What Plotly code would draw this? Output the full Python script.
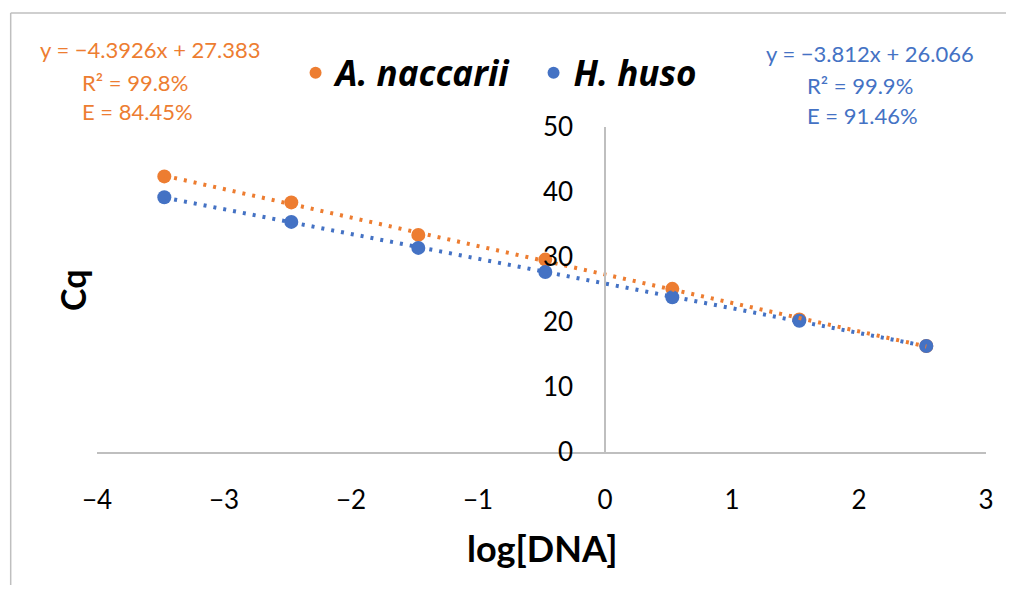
import numpy as np
import plotly.graph_objects as go

# ---- data ----
log_dna = [-3.47, -2.47, -1.47, -0.47, 0.53, 1.53, 2.53]
cq_naccarii = [42.4, 38.4, 33.4, 29.6, 25.1, 20.4, 16.3]
cq_huso = [39.2, 35.4, 31.4, 27.7, 23.8, 20.2, 16.3]
series_names = ["A. naccarii", "H. huso"]
eq_naccarii = ["y = \u22124.3926x + 27.383", "R\u00b2 = 99.8%", "E = 84.45%"]
eq_huso = ["y = \u22123.812x + 26.066", "R\u00b2 = 99.9%", "E = 91.46%"]
x_ticks = [-4, -3, -2, -1, 0, 1, 2, 3]
y_ticks = [0, 10, 20, 30, 40, 50]

ORANGE = "#ED7D31"
BLUE = "#4472C4"
GRAY = "#BFBFBF"
FONT = "Lato, Carlito, sans-serif"
LEGFONT = "Open Sans, sans-serif"

# page has an 8px body margin: figure drawn from page pixel (8, 8)
OFF = 8
W, H = 1014 - 2 * OFF, 593 - 2 * OFF
# plot area in page pixels
PX0, PX1, PY0, PY1 = 97, 988, 127, 452
L, R = PX0 - OFF, (W + OFF) - PX1
T, B = PY0 - OFF, (H + OFF) - PY1
PW, PH = PX1 - PX0, PY1 - PY0


def px(x):
    return (x - PX0) / PW


def py(y):
    return (PY1 - y) / PH


fig = go.Figure()
for name, ys, col in [(series_names[0], cq_naccarii, ORANGE), (series_names[1], cq_huso, BLUE)]:
    fig.add_trace(go.Scatter(x=log_dna, y=ys, mode="markers", name=name,
                             marker=dict(color=col, size=14)))

# linear trendlines computed from the data
for ys, col in [(cq_naccarii, ORANGE), (cq_huso, BLUE)]:
    m, c = np.polyfit(log_dna, ys, 1)
    xs = np.array([min(log_dna), max(log_dna)])
    fig.add_trace(go.Scatter(x=xs, y=m * xs + c, mode="lines", showlegend=False,
                             line=dict(color=col, width=4, dash="3px,7px"),
                             hoverinfo="skip"))

annotations = []
for txt, x0, y0 in zip(eq_naccarii, [38, 80, 80], [50, 82, 112]):
    annotations.append(dict(text=txt, x=px(x0), y=py(y0), xref="paper", yref="paper",
                            xanchor="left", yanchor="middle", showarrow=False,
                            font=dict(family=FONT, size=22, color=ORANGE)))
for txt, x0, y0 in zip(eq_huso, [765, 807, 807], [54, 85, 115]):
    annotations.append(dict(text=txt, x=px(x0), y=py(y0), xref="paper", yref="paper",
                            xanchor="left", yanchor="middle", showarrow=False,
                            font=dict(family=FONT, size=22, color=BLUE)))
annotations.append(dict(text="<b>log[DNA]</b>", x=px(544), y=py(548), xref="paper", yref="paper",
                        xanchor="center", yanchor="middle", showarrow=False,
                        font=dict(family=FONT, size=36, color="black")))
annotations.append(dict(text="<b>Cq</b>", x=px(72), y=py(290), xref="paper", yref="paper",
                        xanchor="center", yanchor="middle", showarrow=False, textangle=-90,
                        font=dict(family=FONT, size=34, color="black")))

shapes = [
    dict(type="line", xref="paper", yref="paper", x0=px(10.5), x1=px(10.5), y0=py(13), y1=py(600),
         line=dict(color=GRAY, width=1.5)),
    dict(type="line", xref="paper", yref="paper", x0=px(10.5), x1=px(1020), y0=py(13), y1=py(13),
         line=dict(color=GRAY, width=1.5)),
]

fig.update_layout(
    width=W, height=H,
    margin=dict(l=L, r=R, t=T, b=B),
    paper_bgcolor="white", plot_bgcolor="white",
    font=dict(family=FONT, color="black"),
    showlegend=True,
    legend=dict(orientation="h", x=px(296), y=py(73), xanchor="left", yanchor="middle",
                font=dict(family=LEGFONT, size=35, color="black", style="italic", weight="bold"),
                itemsizing="constant", bgcolor="rgba(0,0,0,0)",
                entrywidth=193, entrywidthmode="pixels"),
    xaxis=dict(range=[-4, 3], tickvals=x_ticks, ticktext=[str(v).replace("-", "\u2212") for v in x_ticks],
               showgrid=False, zeroline=False, showline=True, linecolor=GRAY, linewidth=1.5,
               ticks="outside", ticklen=24, tickcolor="rgba(0,0,0,0)",
               tickfont=dict(family=FONT, size=26, color="black")),
    yaxis=dict(range=[0, 50], tickvals=y_ticks, anchor="free", position=4 / 7,
               showgrid=False, zeroline=False, showline=True, linecolor=GRAY, linewidth=1.5,
               ticks="outside", ticklen=26, tickcolor="rgba(0,0,0,0)",
               tickfont=dict(family=FONT, size=26, color="black")),
    annotations=annotations,
    shapes=shapes,
)

fig.write_html("out.html", config={"displayModeBar": False})
